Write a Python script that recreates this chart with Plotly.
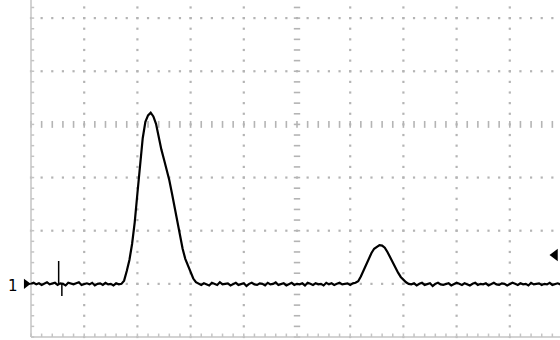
import numpy as np
import plotly.graph_objects as go

# ---- data (oscilloscope trace, vertical divisions) ----
sample_interval_div = 0.05  # horizontal divisions per sample

baseline_a = [-3.00, -2.98, -3.01, -2.99, -3.02, -3.00, -2.97, -3.01, -3.00, -2.98,
              -3.02, -2.99, -3.00, -3.03, -2.98, -3.00, -3.01, -2.99, -2.97, -3.02,
              -3.00, -2.99, -3.01, -2.98, -3.03, -3.00, -2.99, -3.02, -2.98, -3.01,
              -3.00, -3.03, -2.99, -3.01]
peak_1 = [-3.00, -2.94, -2.76, -2.55, -2.25, -1.84, -1.30, -0.72, -0.26, 0.05,
          0.17, 0.22, 0.15, 0.01, -0.26, -0.47, -0.66, -0.85, -1.05, -1.30,
          -1.55, -1.87, -2.12, -2.34, -2.53, -2.66, -2.78, -2.90, -2.97, -3.00]
baseline_b = [-3.02, -2.99, -3.01, -3.03, -2.98, -3.00, -3.02, -2.97, -3.01, -3.00,
              -2.99, -3.03, -3.00, -2.98, -3.02, -3.01, -2.99, -3.04, -3.00, -2.98,
              -3.01, -3.02, -2.99, -3.00, -3.03, -2.98, -3.01, -3.00, -2.97, -3.02,
              -3.01, -2.99, -3.03, -3.00, -2.98, -3.02, -3.00, -3.01, -2.99, -3.03,
              -2.98, -3.00, -3.02, -2.99, -3.01, -3.00, -3.03, -2.98, -3.01, -2.99,
              -3.02, -3.00, -2.98, -3.01, -3.00, -2.99, -3.02, -2.99]
peak_2 = [-2.98, -2.95, -2.86, -2.75, -2.63, -2.52, -2.42, -2.34, -2.30, -2.27,
          -2.28, -2.32, -2.40, -2.50, -2.61, -2.70, -2.79, -2.87, -2.93, -2.97,
          -3.00]
baseline_c = [-3.01, -2.99, -3.03, -3.00, -2.98, -3.02, -3.01, -2.99, -3.04, -3.00,
              -2.98, -3.01, -3.02, -3.00, -2.99, -3.03, -3.01, -2.98, -3.00, -3.02,
              -2.99, -3.01, -3.03, -3.00, -2.98, -3.02, -3.00, -3.01, -2.99, -3.03,
              -3.00, -2.98, -3.01, -3.02, -2.99, -3.00, -3.03, -3.01, -2.98, -3.00,
              -3.02, -2.99, -3.01, -3.00, -3.03, -2.98, -3.01, -3.00, -2.99, -3.02,
              -3.00, -3.01, -2.98, -3.02, -3.00, -2.99, -3.01]

signal = baseline_a + peak_1 + baseline_b + peak_2 + baseline_c
time_div = [i * sample_interval_div for i in range(len(signal))]

channel_label = "1"
channel_ground = -3.0
trigger_time = 0.55
trigger_level = -2.457

# ---- screen geometry ----
XPX, YPX = 53.2, 53.15
x_range = [-31 / XPX, (560 - 31) / XPX]
y_range = [-4 - 3 / YPX, -4 + 337 / YPX]

grid_col = "#b4b4b4"
fig = go.Figure()

# dotted graticule
gx, gy = [], []
minor = np.round(np.arange(-4, 4.001, 0.2), 3)
for xv in range(1, 11):
    if xv == 5:
        continue
    gx += [xv] * len(minor)
    gy += list(minor)
minor_x = np.round(np.arange(0, 10.001, 0.2), 3)
for yv in range(-3, 5):
    if yv == 0:
        continue
    gx += list(minor_x)
    gy += [yv] * len(minor_x)
fig.add_trace(go.Scatter(x=gx, y=gy, mode="markers",
                         marker=dict(symbol="square", size=2.2, color=grid_col, line=dict(width=0)),
                         hoverinfo="skip", showlegend=False))

# center axes with tick dashes
cx, cy = [], []
for yv in minor:
    cx += [5 - 0.06, 5 + 0.06, None]
    cy += [yv, yv, None]
for xv in minor_x:
    cx += [xv, xv, None]
    cy += [-0.065, 0.065, None]
fig.add_trace(go.Scatter(x=cx, y=cy, mode="lines", line=dict(color=grid_col, width=1.6),
                         hoverinfo="skip", showlegend=False))

# borders with ticks
bx, by = [0, 0, None, 0, 10, None], [-4, 4, None, -4, -4, None]
for yv in minor:
    bx += [0, 0.06, None]
    by += [yv, yv, None]
for xv in minor_x:
    bx += [xv, xv, None]
    by += [-4, -4 + 0.065, None]
fig.add_trace(go.Scatter(x=bx, y=by, mode="lines", line=dict(color="#c4c4c4", width=1.5),
                         hoverinfo="skip", showlegend=False))

# the trace
fig.add_trace(go.Scatter(x=time_div, y=signal, mode="lines",
                         line=dict(color="black", width=2.2),
                         hoverinfo="skip", showlegend=False))

# trigger position marker
fig.add_trace(go.Scatter(x=[trigger_time - 0.03, trigger_time - 0.03, None, trigger_time + 0.03, trigger_time + 0.03],
                         y=[channel_ground, channel_ground + 0.43, None, channel_ground, channel_ground - 0.23],
                         mode="lines", line=dict(color="black", width=1.5),
                         hoverinfo="skip", showlegend=False))

# channel ground arrow and trigger level arrow
fig.add_trace(go.Scatter(x=[-0.13, 0.0], y=[channel_ground, channel_ground], mode="lines",
                         line=dict(color="black", width=1.5), hoverinfo="skip", showlegend=False))
fig.add_trace(go.Scatter(x=[-0.09], y=[channel_ground], mode="markers",
                         marker=dict(symbol="triangle-right", size=9, color="black"),
                         hoverinfo="skip", showlegend=False))
fig.add_trace(go.Scatter(x=[9.85], y=[trigger_level], mode="markers",
                         marker=dict(symbol="triangle-left", size=11, color="black"),
                         hoverinfo="skip", showlegend=False))

fig.add_annotation(x=-0.33, y=channel_ground - 0.04, text=channel_label, showarrow=False,
                   font=dict(family="DejaVu Sans", size=15, color="black"))

fig.update_layout(width=560, height=340, margin=dict(l=0, r=0, t=0, b=0),
                  paper_bgcolor="white", plot_bgcolor="white", hovermode=False,
                  xaxis=dict(range=x_range, visible=False, fixedrange=True),
                  yaxis=dict(range=y_range, visible=False, fixedrange=True))

fig.write_html("out.html", config={"displayModeBar": False},
               post_script="document.body.style.margin='0';document.body.style.overflow='hidden';")
